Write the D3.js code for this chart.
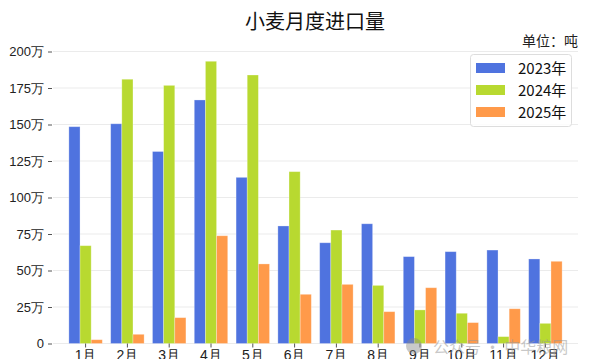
<!DOCTYPE html>
<html><head><meta charset="utf-8">
<script src="https://cdn.jsdelivr.net/npm/d3@7"></script>
<style>
html,body{margin:0;padding:0;background:#fff;}
svg{display:block;font-family:"Noto Sans CJK SC","Noto Sans",sans-serif;}
</style></head>
<body><svg id="c" width="594" height="359"></svg>
<script>
const months = ["1月","2月","3月","4月","5月","6月","7月","8月","9月","10月","11月","12月"];
const seriesNames = ["2023年","2024年","2025年"];
const s2023 = [148.5,150.5,131.5,166.8,113.8,80.5,69,82,59.5,62.9,64,57.9];
const s2024 = [67,181,176.8,193.3,183.9,117.7,77.7,39.8,23,20.7,4.7,13.8];
const s2025 = [2.6,6.3,17.7,73.8,54.5,33.7,40.5,21.8,38.2,14.3,23.8,56.3];
const yTicks = [0,25,50,75,100,125,150,175,200];
const colors = ["#4f73df","#b8d930","#ff9a4a"];

const svg = d3.select("#c");
const L = 53, R = 578, T = 51.5, B = 343.5;
const y = d3.scaleLinear().domain([0,200]).range([B,T]);
const x = d3.scaleBand().domain(months).range([L,R]).paddingInner(0.2).paddingOuter(0.38);
const xs = d3.scaleBand().domain(seriesNames).range([0,x.bandwidth()]);
const data = [s2023,s2024,s2025];

// grid
svg.append("g").selectAll("line").data(yTicks).join("line")
  .attr("x1",L).attr("x2",R).attr("y1",d=>y(d)).attr("y2",d=>y(d))
  .attr("stroke","#ebebeb").attr("stroke-width",1);

// y axis
const ya = svg.append("g").attr("transform",`translate(${L-1},0)`)
  .call(d3.axisLeft(y).tickValues(yTicks).tickSize(4).tickPadding(4).tickFormat(d=>d===0?"0":d+"万"));
ya.select(".domain").remove();
ya.selectAll("line").attr("stroke","#555");
ya.selectAll("text").attr("font-size",13).attr("fill","#222");

// bars
seriesNames.forEach((s,i)=>{
  svg.append("g").selectAll("rect").data(months).join("rect")
    .attr("x",(m)=>x(m)+xs(s)).attr("width",xs.bandwidth())
    .attr("y",(m,j)=>y(data[i][j])).attr("height",(m,j)=>B-y(data[i][j]))
    .attr("fill",colors[i]).attr("stroke","#fff").attr("stroke-opacity",0.35).attr("stroke-width",0.8);
});

// x axis
const xa = svg.append("g").attr("transform",`translate(0,${B})`)
  .call(d3.axisBottom(x).tickSize(4).tickPadding(3));
xa.select(".domain").remove();
xa.selectAll("line").attr("stroke","#555");
xa.selectAll("text").attr("font-size",14).attr("fill","#222");

// title
svg.append("text").attr("x",315).attr("y",29).attr("text-anchor","middle")
  .attr("font-size",20).attr("fill","#111").text("小麦月度进口量");
svg.append("text").attr("x",578).attr("y",46).attr("text-anchor","end")
  .attr("font-size",14).attr("fill","#222").text("单位：吨");

// legend
const lg = svg.append("g");
lg.append("rect").attr("x",470.5).attr("y",54.5).attr("width",101).attr("height",72).attr("rx",3)
  .attr("fill","#fff").attr("fill-opacity",0.85).attr("stroke","#ddd");
seriesNames.forEach((s,i)=>{
  const yy = 68 + i*22;
  lg.append("rect").attr("x",476).attr("y",yy-5).attr("width",29).attr("height",10).attr("fill",colors[i]);
  lg.append("text").attr("x",518).attr("y",yy+5.5).attr("font-size",15).attr("fill","#111").text(s);
});

// watermark
svg.append("text").attr("x",433).attr("y",353).attr("text-anchor","start")
  .attr("font-size",16).attr("fill","#999").attr("fill-opacity",0.55).text("公众号 · 中华粮网");
svg.append("circle").attr("cx",414).attr("cy",346).attr("r",8).attr("fill","#888").attr("fill-opacity",0.45);
</script>
</body></html>
